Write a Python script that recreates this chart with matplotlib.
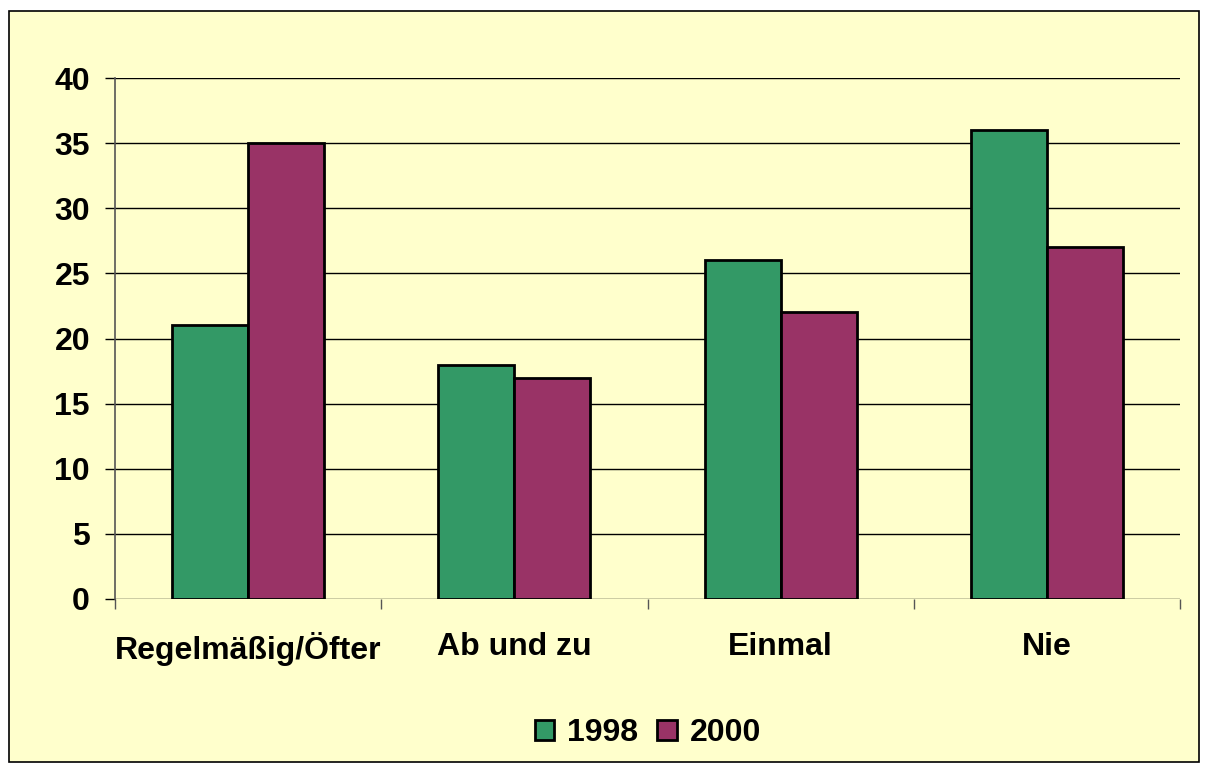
import numpy as np
import matplotlib.pyplot as plt
from matplotlib.patches import Rectangle

plt.rcParams['font.family'] = ['Liberation Sans', 'DejaVu Sans']
plt.rcParams['font.weight'] = 'bold'

# data
categories = ['Regelmäßig/Öfter', 'Ab und zu', 'Einmal', 'Nie']
series_names = ['1998', '2000']
values_1998 = [21, 18, 26, 36]
values_2000 = [35, 17, 22, 27]
y_ticks = [0, 5, 10, 15, 20, 25, 30, 35, 40]

bg = '#FFFFCC'
colors = ['#339966', '#993366']
fs = 23

fig = plt.figure(figsize=(12.08, 7.72), dpi=100)
fig.patch.set_facecolor('white')
# outer chart border, drawn behind the axes
fig.patches.append(Rectangle((9 / 1208, 10 / 772), 1190 / 1208, 751 / 772,
                             transform=fig.transFigure, facecolor=bg,
                             edgecolor='black', linewidth=1.2, zorder=-10))

ax = fig.add_axes([115 / 1208, 1 - 599 / 772, 1065 / 1208, 521 / 772])
ax.set_facecolor(bg)

x = np.arange(len(categories))
w = 0.285
ax.bar(x - w / 2, values_1998, w, color=colors[0], edgecolor='black',
       linewidth=2, label=series_names[0], zorder=3)
ax.bar(x + w / 2, values_2000, w, color=colors[1], edgecolor='black',
       linewidth=2, label=series_names[1], zorder=3)

ax.set_xlim(-0.5, len(categories) - 0.5)
ax.set_ylim(0, 40)
ax.set_yticks(y_ticks)
ax.yaxis.grid(True, color='black', linewidth=1)
ax.set_axisbelow(True)

for s in ['top', 'right', 'bottom']:
    ax.spines[s].set_visible(False)
ax.spines['left'].set_color('#555555')
ax.spines['left'].set_linewidth(1.2)

ax.set_xticks(x)
ax.set_xticklabels(categories)
ax.set_xticks(np.arange(-0.5, len(categories)), minor=True)
ax.tick_params(axis='x', which='major', length=0, pad=24, labelsize=fs)
ax.tick_params(axis='x', which='minor', length=7, width=1, color='#555555',
               direction='out')
ax.tick_params(axis='y', length=7, width=1, pad=11, labelsize=fs)

leg = fig.legend(loc='center', bbox_to_anchor=(648 / 1208, 1 - 733 / 772),
                 ncol=2, frameon=False, fontsize=fs, handlelength=0.6,
                 handleheight=0.6, handletextpad=0.4, columnspacing=0.6)

fig.savefig('out.png', dpi=100, facecolor='white')
